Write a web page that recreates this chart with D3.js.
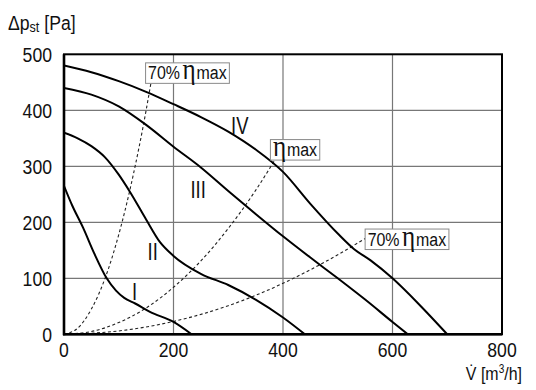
<!DOCTYPE html>
<html><head><meta charset="utf-8">
<script src="https://cdn.jsdelivr.net/npm/d3@7"></script>
<style>
html,body{margin:0;padding:0;background:#fff;}
svg{display:block;}
text{font-family:"Liberation Sans",Arial,sans-serif;fill:#111;}
</style></head><body>
<svg id="c" width="536" height="390"></svg>
<script>
// ---- data ----
const xTicks = [0, 200, 400, 600, 800];
const yTicks = [0, 100, 200, 300, 400, 500];

const curveNames = ["I", "II", "III", "IV"];
const curveIx = [0, 15, 35, 55, 78, 95, 110, 130, 157, 200, 233];
const curveIy = [265, 230, 190, 145, 100, 78, 65, 55, 40, 22, 0];
const curveIIx = [0, 25, 50, 75, 100, 120, 150, 175, 200, 250, 300, 350, 400, 440];
const curveIIy = [360, 350, 336, 316, 285, 255, 205, 165, 140, 108, 88, 62, 30, 0];
const curveIIIx = [0, 50, 100, 150, 200, 250, 300, 350, 400, 450, 500, 550, 600, 628];
const curveIIIy = [440, 428, 407, 374, 335, 298, 256, 215, 175, 137, 100, 62, 22, 0];
const curveIVx = [0, 50, 100, 150, 200, 250, 300, 350, 400, 450, 500, 530, 560, 600, 650, 700];
const curveIVy = [480, 468, 452, 433, 411, 388, 362, 330, 290, 233, 180, 152, 132, 100, 52, 0];

const eff70aX = [0, 25, 50, 75, 100, 125, 150, 159];
const eff70aY = [0, 11, 45, 100, 178, 278, 400, 450];
const effMaxX = [0, 50, 100, 150, 200, 250, 300, 350, 385];
const effMaxY = [0, 5, 21, 47, 84, 131, 189, 257, 311];
const eff70bX = [0, 100, 200, 300, 400, 500, 550];
const eff70bY = [0, 6, 23, 51, 91, 142, 171];

// ---- chart ----
const svg = d3.select("#c");
const x = d3.scaleLinear().domain([0, 800]).range([64, 502]);
const y = d3.scaleLinear().domain([0, 500]).range([334.3, 54.3]);
const SX = 0.84; // condensed look

function txt(parent, px, py, size, anchor, sx) {
  return parent.append("g").attr("transform", `translate(${px},${py}) scale(${sx || SX},1)`)
    .append("text").attr("x", 0).attr("y", 0).attr("font-size", size).attr("text-anchor", anchor || "start");
}

// grid
svg.append("g").selectAll("line").data(xTicks.slice(1, -1)).join("line")
  .attr("x1", d => x(d)).attr("x2", d => x(d)).attr("y1", y(0)).attr("y2", y(500))
  .attr("stroke", "#777").attr("stroke-width", 1.2);
svg.append("g").selectAll("line").data(yTicks.slice(1, -1)).join("line")
  .attr("y1", d => y(d)).attr("y2", d => y(d)).attr("x1", x(0)).attr("x2", x(800))
  .attr("stroke", "#777").attr("stroke-width", 1.2);

svg.append("clipPath").attr("id", "clip").append("rect")
  .attr("x", x(0)).attr("y", y(500)).attr("width", x(800) - x(0)).attr("height", y(0) - y(500));

const pts = (xs, ys) => xs.map((v, i) => [v, ys[i]]);
const line = d3.line().x(d => x(d[0])).y(d => y(d[1])).curve(d3.curveMonotoneX);

const plot = svg.append("g").attr("clip-path", "url(#clip)");
[[eff70aX, eff70aY], [effMaxX, effMaxY], [eff70bX, eff70bY]].forEach(([xs, ys]) => {
  plot.append("path").attr("d", line(pts(xs, ys))).attr("fill", "none")
    .attr("stroke", "#222").attr("stroke-width", 1.1).attr("stroke-dasharray", "3,2.5");
});
[[curveIx, curveIy], [curveIIx, curveIIy], [curveIIIx, curveIIIy], [curveIVx, curveIVy]].forEach(([xs, ys]) => {
  plot.append("path").attr("d", line(pts(xs, ys))).attr("fill", "none")
    .attr("stroke", "#000").attr("stroke-width", 2);
});

// frame
svg.append("rect").attr("x", x(0)).attr("y", y(500)).attr("width", x(800) - x(0)).attr("height", y(0) - y(500))
  .attr("fill", "none").attr("stroke", "#000").attr("stroke-width", 2);
svg.append("line").attr("x1", x(0)).attr("x2", x(0)).attr("y1", y(500)).attr("y2", y(0) + 1).attr("stroke", "#000").attr("stroke-width", 2.6);
svg.append("line").attr("x1", x(0) - 1).attr("x2", x(800)).attr("y1", y(0)).attr("y2", y(0)).attr("stroke", "#000").attr("stroke-width", 2.6);

// tick labels
yTicks.forEach(d => txt(svg, 52, y(d) + 7.5, 21, "end").text(d));
xTicks.forEach(d => txt(svg, x(d), 357, 21, "middle").text(d));

// axis titles
const yt = txt(svg, 8, 30, 21, "start");
yt.append("tspan").text("Δp");
yt.append("tspan").attr("font-size", 15).attr("dy", 2).text("st");
yt.append("tspan").attr("dy", -2).text(" [Pa]");
const xt = txt(svg, 522, 380, 19, "end");
xt.append("tspan").text("V̇ [m");
xt.append("tspan").attr("font-size", 12).attr("dy", -7).text("3");
xt.append("tspan").attr("dy", 7).text("/h]");

// curve labels
const numPos = [[129, 75.5], [162, 147], [245, 258], [321, 372]];
curveNames.forEach((d, i) => txt(svg, x(numPos[i][0]), y(numPos[i][1]) + 8.3, 23, "middle", 0.8).text(d));

// efficiency labels
function effLabel(px, py, prefix) {
  const g = svg.append("g");
  const rect = g.append("rect");
  const t = txt(g, px + 2.5, py, 19, "start");
  if (prefix) t.append("tspan").text(prefix);
  t.append("tspan").attr("font-family", "'Liberation Serif','DejaVu Serif',serif").attr("font-size", 30).attr("dx", prefix ? 3 : 0).text("η");
  t.append("tspan").attr("dx", 1).text("max");
  const bb = t.node().getBBox();
  rect.attr("x", px).attr("y", py - 16.5)
    .attr("width", bb.width * SX + 5).attr("height", 20.5)
    .attr("fill", "#fff").attr("stroke", "#8a8a8a").attr("stroke-width", 1);
}
effLabel(x(149), y(449) - 3.5, "70%");
effLabel(x(377), y(312) - 3.5, null);
effLabel(x(550), y(171) + 7, "70%");
</script>
</body></html>
